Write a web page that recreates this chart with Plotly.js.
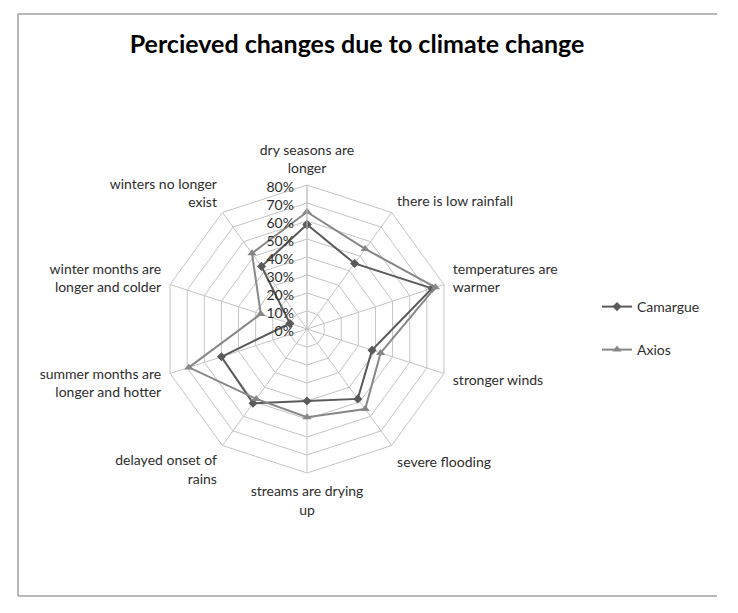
<!DOCTYPE html>
<html>
<head>
<meta charset="utf-8">
<script src="https://cdn.plot.ly/plotly-3.0.1.min.js"></script>
<style>
  body { margin: 0; background: #fff; }
  #graph { width: 738px; height: 613px; }
</style>
</head>
<body>
<div id="graph"></div>
<script>
// categories, clockwise from the top
var categories = [
  'dry seasons are<br>longer',
  'there is low rainfall',
  'temperatures are<br>warmer',
  'stronger winds',
  'severe flooding',
  'streams are drying<br>up',
  'delayed onset of<br>rains',
  'summer months are<br>longer and hotter',
  'winter months are<br>longer and colder',
  'winters no longer<br>exist'
];
var camargue = [0.58, 0.45, 0.73, 0.38, 0.48, 0.40, 0.51, 0.50, 0.10, 0.43];
var axios = [0.65, 0.55, 0.75, 0.43, 0.55, 0.49, 0.48, 0.69, 0.27, 0.52];
var radialTicks = [0, 0.1, 0.2, 0.3, 0.4, 0.5, 0.6, 0.7, 0.8];

// repeat the first point so the polygon closes
function closed(arr) { return arr.concat([arr[0]]); }

var txt = '#2e2e2e';
var gridCol = '#c4c4c4';

var trace1 = {
  type: 'scatterpolar',
  r: closed(camargue),
  theta: closed(categories),
  mode: 'lines+markers',
  name: 'Camargue',
  line: {color: '#5a5a5a', width: 2},
  marker: {symbol: 'diamond', size: 7, color: '#5a5a5a'},
  legend: 'legend'
};

var trace2 = {
  type: 'scatterpolar',
  r: closed(axios),
  theta: closed(categories),
  mode: 'lines+markers',
  name: 'Axios',
  line: {color: '#878787', width: 2},
  marker: {symbol: 'triangle-up', size: 8, color: '#878787'},
  legend: 'legend2'
};

var data = [trace1, trace2];

var layout = {
  width: 738,
  height: 613,
  autosize: false,
  margin: {l: 0, r: 0, t: 0, b: 0},
  paper_bgcolor: '#fff',
  font: {family: 'Lato, "Open Sans", sans-serif', size: 14, color: txt},
  title: {
    text: '<b>Percieved changes due to climate change</b>',
    font: {family: 'Lato, "Open Sans", sans-serif', size: 25, color: '#000'},
    x: 357 / 738, xref: 'paper', xanchor: 'center',
    y: 1 - 44 / 613, yref: 'paper', yanchor: 'middle'
  },
  polar: {
    domain: {x: [163 / 738, 451 / 738], y: [140 / 613, 428 / 613]},
    gridshape: 'linear',
    bgcolor: '#fff',
    radialaxis: {
      range: [0, 0.8],
      tickvals: radialTicks,
      tickformat: '.0%',
      angle: 90,
      side: 'counterclockwise',
      showline: true,
      linecolor: gridCol,
      gridcolor: gridCol,
      ticks: '',
      tickfont: {size: 14, color: txt}
    },
    angularaxis: {
      direction: 'clockwise',
      rotation: 90,
      showline: true,
      linecolor: gridCol,
      gridcolor: gridCol,
      ticks: 'outside',
      ticklen: 6,
      tickcolor: 'rgba(0,0,0,0)',
      tickfont: {size: 14, color: txt}
    }
  },
  showlegend: true,
  legend: {
    x: 597 / 738, y: 1 - 307 / 613, xanchor: 'left', yanchor: 'middle',
    bgcolor: 'rgba(0,0,0,0)', font: {size: 14, color: txt}
  },
  legend2: {
    x: 597 / 738, y: 1 - 350 / 613, xanchor: 'left', yanchor: 'middle',
    bgcolor: 'rgba(0,0,0,0)', font: {size: 14, color: txt}
  },
  shapes: [
    {type: 'line', xref: 'paper', yref: 'paper', x0: 18 / 738, x1: 717 / 738, y0: 1 - 14 / 613, y1: 1 - 14 / 613, line: {color: '#a0a0a0', width: 1.5}},
    {type: 'line', xref: 'paper', yref: 'paper', x0: 18 / 738, x1: 18 / 738, y0: 1 - 14 / 613, y1: 1 - 596 / 613, line: {color: '#a0a0a0', width: 1.5}},
    {type: 'line', xref: 'paper', yref: 'paper', x0: 18 / 738, x1: 717 / 738, y0: 1 - 596 / 613, y1: 1 - 596 / 613, line: {color: '#a0a0a0', width: 1.5}}
  ]
};

Plotly.newPlot('graph', data, layout, {displayModeBar: false, staticPlot: true});
</script>
</body>
</html>
